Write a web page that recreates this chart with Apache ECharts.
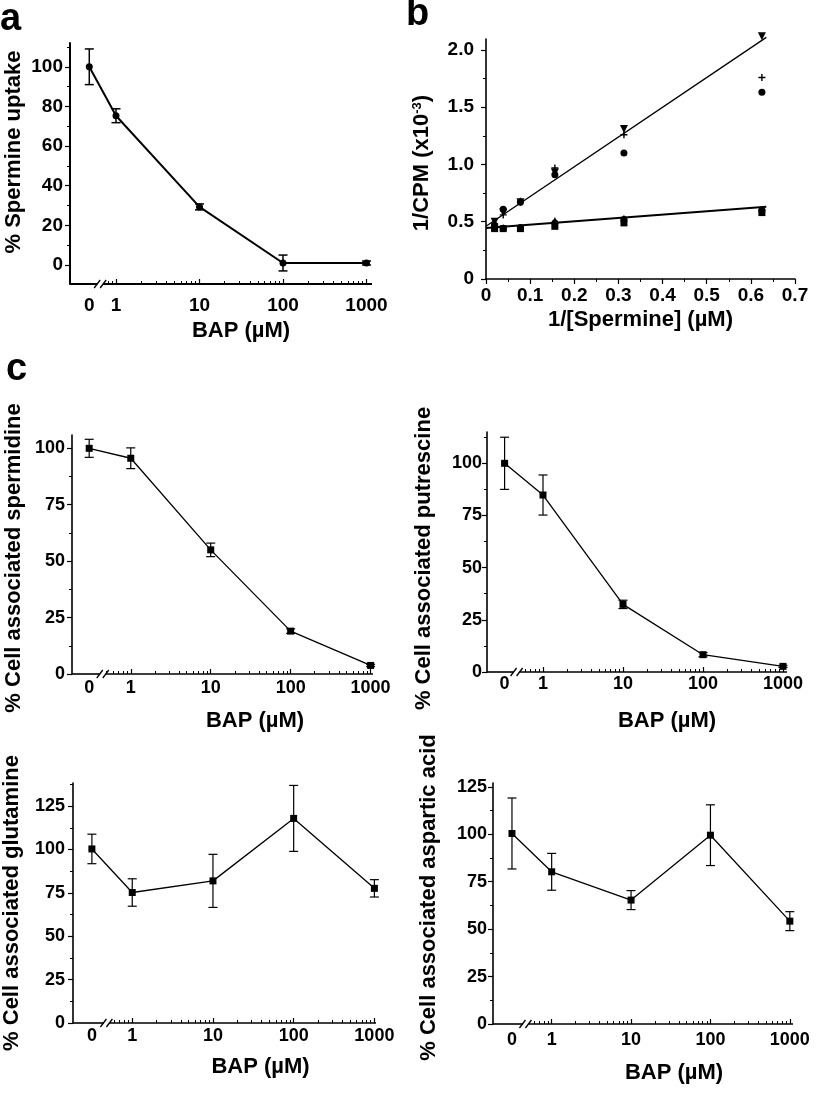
<!DOCTYPE html>
<html><head><meta charset="utf-8">
<script src="https://cdn.jsdelivr.net/npm/echarts@6/dist/echarts.min.js"></script>
<style>html,body{margin:0;padding:0;background:#fff}#c{width:820px;height:1101px}</style>
</head><body><div id="c"></div>
<script>
// ---------------- DATA ----------------
const bapDoses = [0, 1, 10, 100, 1000];
const bapTickLabels = ['0', '1', '10', '100', '1000'];

const spermineUptake    = [100, 75.3, 29.3, 1, 1];
const spermineUptakeErr = [9, 3.5, 1.5, 4, 1];

const spermidine    = [100, 95.6, 55, 19, 3.8];
const spermidineErr = [4, 4.6, 3, 1, 0.5];

const putrescine    = [100, 84.8, 32.4, 8.3, 2.7];
const putrescineErr = [12.5, 9.6, 2, 1, 0.5];

const glutamine    = [100.3, 75.2, 81.9, 117.9, 77.6];
const glutamineErr = [8.5, 7.9, 15.3, 19, 5];

const aspartic    = [100.4, 80.2, 65.3, 99.5, 54.2];
const asparticErr = [18.7, 9.7, 5, 16, 5];

// Lineweaver-Burk (panel b)
const invSpermine = [0.0195, 0.039, 0.078, 0.156, 0.3125, 0.625];
const lbUpperTri    = [0.50, 0.58, 0.67, 0.93, 1.31, 2.12];
const lbUpperPlus   = [0.48, 0.56, 0.68, 0.97, 1.26, 1.76];
const lbUpperCircle = [0.47, 0.61, 0.67, 0.91, 1.10, 1.63];
const lbLowerSquare = [0.44, 0.44, 0.44, 0.46, 0.49, 0.58];
const lbLowerTri    = [0.45, 0.45, 0.45, 0.51, 0.53, 0.61];
const lbLowerCircle = [0.45, 0.44, 0.45, 0.49, 0.52, 0.60];
const lbUpperFitX = [0, 0.635], lbUpperFitY = [0.46, 2.11];
const lbLowerFitX = [0, 0.635], lbLowerFitY = [0.445, 0.63];
const lbXTicks = [0, 0.1, 0.2, 0.3, 0.4, 0.5, 0.6, 0.7];
const lbYTicks = [0, 0.5, 1.0, 1.5, 2.0];

// ---------------- BUILD ----------------
const FONT = '"Liberation Sans", Arial, Helvetica, sans-serif';
const BLACK = '#000';
const grids = [], xAxes = [], yAxes = [], series = [];

function addAxes(P) {
  const gi = grids.length;
  grids.push(Object.assign({containLabel: false, outerBoundsMode: 'none'}, P.grid));
  const xi = xAxes.length, yi = yAxes.length;
  const lbl = (m, fmt, vals) => ({show: true, customValues: vals, formatter: fmt, margin: m, color: BLACK,
    fontSize: P.labelSize, fontWeight: 'bold', fontFamily: FONT});
  const nameStyle = (pad) => ({color: BLACK, fontSize: 22, fontWeight: 'bold', fontFamily: FONT, padding: pad,
    rich: {sup: {fontSize: 13, fontWeight: 'bold', fontFamily: FONT, color: BLACK, verticalAlign: 'top', padding: [0, 0, 9, 0]}}});
  xAxes.push({
    type: 'value', gridIndex: gi, min: P.xMin, max: P.xMax, position: 'bottom',
    axisLine: {show: P.showXLine, onZero: false, lineStyle: {color: BLACK, width: P.axisW}},
    axisTick: {show: true, inside: P.xInside, length: 5, customValues: P.xMajor, lineStyle: {color: BLACK, width: 1.2}},
    axisLabel: lbl(P.xMargin, P.xFmt, P.xLabels),
    splitLine: {show: false},
    name: P.xName, nameLocation: 'middle', nameGap: P.xNameGap, nameTextStyle: nameStyle(P.xNamePad)
  });
  xAxes.push({
    type: 'value', gridIndex: gi, min: P.xMin, max: P.xMax, position: 'bottom',
    axisLine: {show: false, onZero: false},
    axisTick: {show: true, inside: P.xInside, length: 3, customValues: P.xMinor, lineStyle: {color: BLACK, width: 1}},
    axisLabel: {show: false}, splitLine: {show: false}
  });
  yAxes.push({
    type: 'value', gridIndex: gi, min: P.yMin, max: P.yMax, position: 'left',
    axisLine: {show: true, onZero: false, lineStyle: {color: BLACK, width: P.axisW}},
    axisTick: {show: true, length: 5, customValues: P.yMajor, lineStyle: {color: BLACK, width: 1.2}},
    axisLabel: lbl(P.yMargin, P.yFmt, P.yLabels),
    splitLine: {show: false},
    name: P.yName, nameLocation: 'middle', nameGap: P.yNameGap, nameTextStyle: nameStyle(P.yNamePad)
  });
  yAxes.push({
    type: 'value', gridIndex: gi, min: P.yMin, max: P.yMax, position: 'left',
    axisLine: {show: false, onZero: false},
    axisTick: {show: true, length: 3, customValues: P.yMinor, lineStyle: {color: BLACK, width: 1}},
    axisLabel: {show: false}, splitLine: {show: false}
  });
  return {xi, yi};
}

function range(a, b, s) { const r = []; for (let v = a; v <= b + 1e-9; v += s) r.push(+v.toFixed(4)); return r; }

function bapPanel(P, vals, errs, style) {
  const posOf = d => d === 0 ? P.zero : Math.log10(d);
  const labelPos = bapDoses.map(posOf);
  const minor = [];
  for (let d = -1; d <= 2; d++) for (let k = 2; k <= 9; k++) {
    const p = d + Math.log10(k);
    if (p > P.brk + 0.04 && p < P.xMax) minor.push(p);
  }
  P.xLabels = labelPos;
  P.xFmt = v => { const i = labelPos.findIndex(p => Math.abs(p - v) < 1e-6); return i >= 0 ? bapTickLabels[i] : ''; };
  P.xMajor = [0, 1, 2, 3];
  P.xMinor = minor;
  P.xInside = true;
  P.showXLine = false;
  P.yFmt = v => String(v);
  const {xi, yi} = addAxes(P);
  // axis line with break marks
  series.push({
    type: 'custom', xAxisIndex: xi, yAxisIndex: yi, clip: false, silent: true, z: 5,
    data: [[P.xMin, P.yMin, P.brk, P.xMax]],
    renderItem: (params, api) => {
      const a = api.coord([api.value(0), api.value(1)]);
      const b = api.coord([api.value(2), api.value(1)]);
      const c = api.coord([api.value(3), api.value(1)]);
      const st = {stroke: BLACK, lineWidth: P.axisW};
      const y = a[1], g = 3;
      return {type: 'group', children: [
        {type: 'line', shape: {x1: a[0], y1: y, x2: b[0] - g, y2: y}, style: st},
        {type: 'line', shape: {x1: b[0] + g, y1: y, x2: c[0], y2: y}, style: st},
        {type: 'line', shape: {x1: b[0] - g - 3, y1: y + 4, x2: b[0] - g + 3, y2: y - 4}, style: {stroke: BLACK, lineWidth: 1.3}},
        {type: 'line', shape: {x1: b[0] + g - 3, y1: y + 4, x2: b[0] + g + 3, y2: y - 4}, style: {stroke: BLACK, lineWidth: 1.3}}
      ]};
    }
  });
  // error bars
  series.push({
    type: 'custom', xAxisIndex: xi, yAxisIndex: yi, clip: false, silent: true, z: 3,
    data: bapDoses.map((d, i) => [posOf(d), vals[i] - errs[i], vals[i] + errs[i]]),
    encode: {x: 0, y: [1, 2]},
    renderItem: (params, api) => {
      const lo = api.coord([api.value(0), api.value(1)]);
      const hi = api.coord([api.value(0), api.value(2)]);
      const hw = 4.5, st = {stroke: BLACK, lineWidth: style.errW};
      return {type: 'group', children: [
        {type: 'line', shape: {x1: lo[0], y1: lo[1], x2: hi[0], y2: hi[1]}, style: st},
        {type: 'line', shape: {x1: lo[0] - hw, y1: lo[1], x2: lo[0] + hw, y2: lo[1]}, style: st},
        {type: 'line', shape: {x1: hi[0] - hw, y1: hi[1], x2: hi[0] + hw, y2: hi[1]}, style: st}
      ]};
    }
  });
  series.push({
    type: 'line', xAxisIndex: xi, yAxisIndex: yi, clip: false, z: 4,
    data: bapDoses.map((d, i) => [posOf(d), vals[i]]),
    symbol: style.symbol, symbolSize: style.symbolSize, showSymbol: true,
    lineStyle: {color: BLACK, width: style.lineW}, itemStyle: {color: BLACK, opacity: 1}
  });
}

// Panel a
bapPanel({grid: {left: 70, top: 43, width: 302, height: 241}, xMin: -0.551, xMax: 3.066, zero: -0.32, brk: -0.19,
  yMin: -9.6, yMax: 112, yLabels: [0, 20, 40, 60, 80, 100], yMajor: [0, 20, 40, 60, 80, 100], yMinor: [10, 30, 50, 70, 90, 110],
  labelSize: 19, xMargin: 12, yMargin: 7, axisW: 2,
  xName: 'BAP (\u00B5M)', xNameGap: 36, xNamePad: [0, 0, 0, 40],
  yName: '% Spermine uptake', yNameGap: 45, yNamePad: [0, 0, 0, 23]},
  spermineUptake, spermineUptakeErr, {symbol: 'circle', symbolSize: 7, lineW: 2, errW: 1.5});

// Panel c - spermidine
bapPanel({grid: {left: 72, top: 435, width: 301, height: 239}, xMin: -0.735, xMax: 3.03, zero: -0.52, brk: -0.35,
  yMin: 0, yMax: 105.9, yLabels: [0, 25, 50, 75, 100], yMajor: [0, 25, 50, 75, 100], yMinor: [12.5, 37.5, 62.5, 87.5],
  labelSize: 18, xMargin: 5, yMargin: 7, axisW: 1.6,
  xName: 'BAP (\u00B5M)', xNameGap: 36, xNamePad: [0, 0, 0, 65],
  yName: '% Cell associated spermidine', yNameGap: 47, yNamePad: [0, 7, 0, 0]},
  spermidine, spermidineErr, {symbol: 'rect', symbolSize: 7, lineW: 1.3, errW: 1.2});

// Panel c - putrescine
bapPanel({grid: {left: 487, top: 432, width: 300, height: 240}, xMin: -0.70, xMax: 3.05, zero: -0.48, brk: -0.33,
  yMin: 0, yMax: 115, yLabels: [0, 25, 50, 75, 100], yMajor: [0, 25, 50, 75, 100], yMinor: [12.5, 37.5, 62.5, 87.5, 112.5],
  labelSize: 18, xMargin: 3, yMargin: 5, axisW: 1.6,
  xName: 'BAP (\u00B5M)', xNameGap: 38, xNamePad: [0, 0, 0, 60],
  yName: '% Cell associated putrescine', yNameGap: 52, yNamePad: [0, 13, 0, 0]},
  putrescine, putrescineErr, {symbol: 'rect', symbolSize: 7, lineW: 1.3, errW: 1.2});

// Panel c - glutamine
bapPanel({grid: {left: 73, top: 783, width: 303, height: 240}, xMin: -0.734, xMax: 3.02, zero: -0.50, brk: -0.32,
  yMin: 0, yMax: 138.3, yLabels: [0, 25, 50, 75, 100, 125], yMajor: [0, 25, 50, 75, 100, 125], yMinor: [12.5, 37.5, 62.5, 87.5, 112.5, 137.5],
  labelSize: 18, xMargin: 4, yMargin: 8, axisW: 1.6,
  xName: 'BAP (\u00B5M)', xNameGap: 33, xNamePad: [0, 0, 0, 72],
  yName: '% Cell associated glutamine', yNameGap: 50, yNamePad: [0, 0, 0, 0]},
  glutamine, glutamineErr, {symbol: 'rect', symbolSize: 7, lineW: 1.3, errW: 1.2});

// Panel c - aspartic acid
bapPanel({grid: {left: 493, top: 783, width: 300, height: 241}, xMin: -0.739, xMax: 3.04, zero: -0.50, brk: -0.33,
  yMin: 0, yMax: 127, yLabels: [0, 25, 50, 75, 100, 125], yMajor: [0, 25, 50, 75, 100, 125], yMinor: [12.5, 37.5, 62.5, 87.5, 112.5],
  labelSize: 18, xMargin: 7, yMargin: 6, axisW: 1.6,
  xName: 'BAP (\u00B5M)', xNameGap: 38, xNamePad: [0, 0, 0, 62],
  yName: '% Cell associated aspartic acid', yNameGap: 53, yNamePad: [0, 0, 0, 12]},
  aspartic, asparticErr, {symbol: 'rect', symbolSize: 7, lineW: 1.3, errW: 1.2});

// Panel b
(function () {
  const P = {grid: {left: 486, top: 39, width: 309, height: 240}, xMin: 0, xMax: 0.7, yMin: 0, yMax: 2.096,
    xLabels: lbXTicks, xMajor: lbXTicks, xMinor: range(0.05, 0.65, 0.1), xInside: false, showXLine: true,
    xFmt: v => v === 0 ? '0' : v.toFixed(1),
    yLabels: lbYTicks, yMajor: lbYTicks, yMinor: [0.25, 0.75, 1.25, 1.75],
    yFmt: v => v === 0 ? '0' : v.toFixed(1),
    labelSize: 19, xMargin: 7, yMargin: 12, axisW: 1.6,
    xName: '1/[Spermine] (\u00B5M)', xNameGap: 30, xNamePad: [0, 0, 0, 0],
    yName: '1/CPM (x10{sup|-3})', yNameGap: 53, yNamePad: [0, 8, 0, 0]};
  const {xi, yi} = addAxes(P);
  const zip = (xs, ys) => xs.map((x, i) => [x, ys[i]]);
  const fit = (xs, ys, w) => ({type: 'line', xAxisIndex: xi, yAxisIndex: yi, data: zip(xs, ys), symbol: 'none',
    lineStyle: {color: BLACK, width: w}, z: 3, clip: false});
  series.push(fit(lbUpperFitX, lbUpperFitY, 1.3));
  series.push(fit(lbLowerFitX, lbLowerFitY, 2));
  const sc = (ys, symbol, size) => ({type: 'scatter', xAxisIndex: xi, yAxisIndex: yi, data: zip(invSpermine, ys),
    symbol, symbolSize: size, itemStyle: {color: BLACK, opacity: 1}, z: 4, clip: false});
  series.push(sc(lbUpperTri, 'path://M0,0L10,0L5,9Z', 8));
  series.push(sc(lbUpperPlus, 'path://M4,0H6V4H10V6H6V10H4V6H0V4H4Z', 7));
  series.push(sc(lbUpperCircle, 'circle', 7));
  series.push(sc(lbLowerSquare, 'rect', 7));
  series.push(sc(lbLowerTri, 'triangle', 7));
  series.push(sc(lbLowerCircle, 'circle', 7));
})();

const letter = (t, left, top) => ({type: 'text', left, top,
  style: {text: t, fill: BLACK, fontSize: 38, fontWeight: 'bold', fontFamily: FONT}});

const chart = echarts.init(document.getElementById('c'), null, {renderer: 'canvas'});
chart.setOption({
  animation: false,
  backgroundColor: '#fff',
  grid: grids, xAxis: xAxes, yAxis: yAxes, series,
  graphic: [letter('a', 0, 1), letter('b', 406, -4), letter('c', 6, 351)]
});
</script></body></html>
